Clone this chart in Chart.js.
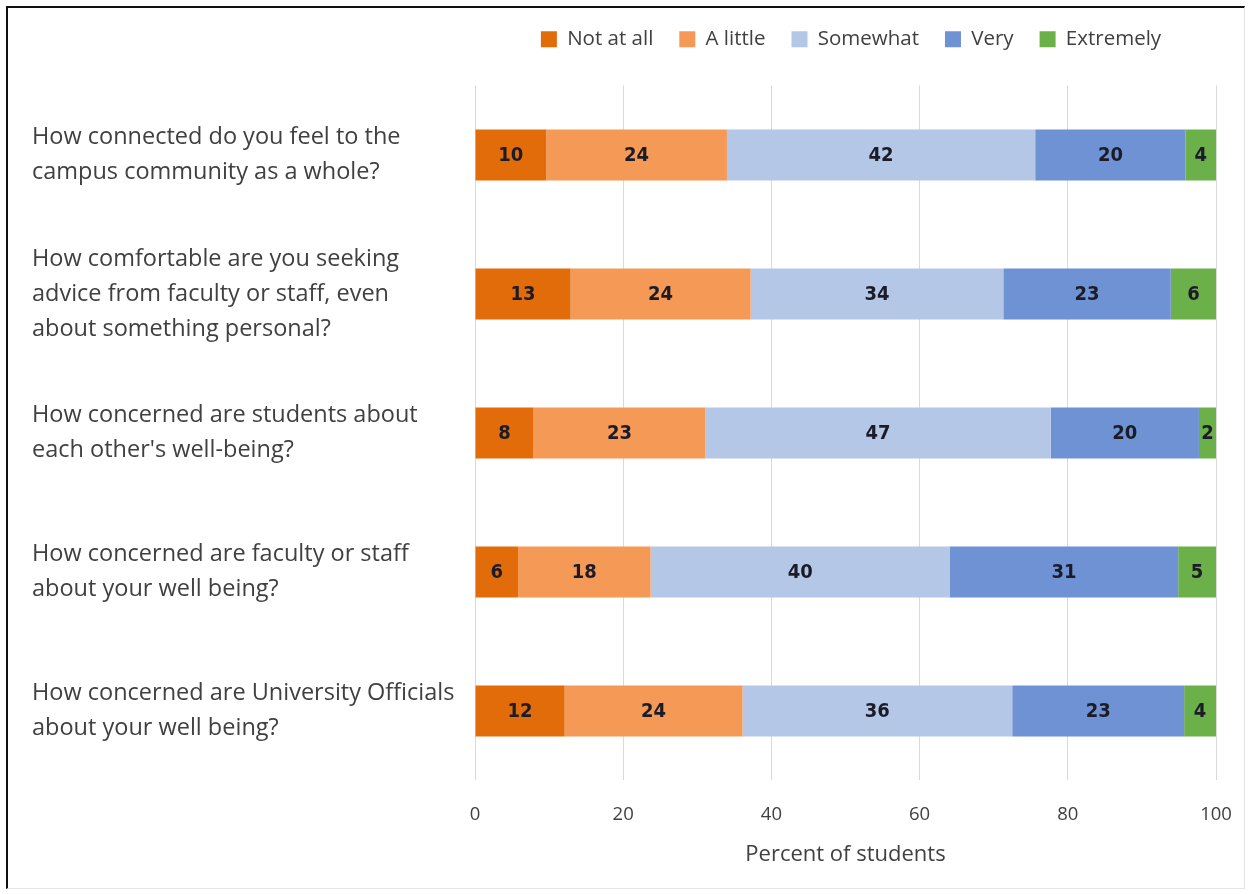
<!DOCTYPE html>
<html>
<head>
<meta charset="utf-8">
<script src="https://cdn.jsdelivr.net/npm/chart.js@4/dist/chart.umd.min.js"></script>
<style>
  html, body { margin: 0; padding: 0; background: #fff; }
  #wrap { position: relative; width: 1250px; height: 894px; }
  #frame { position: absolute; left: 6px; top: 6px; width: 1236px; height: 880px;
           border-top: 2px solid #111; border-left: 2px solid #111;
           border-right: 1px solid #e4e4e4; border-bottom: 1px solid #e4e4e4; pointer-events: none; }
  canvas { position: absolute; left: 0; top: 0; }
</style>
</head>
<body>
<div id="wrap">
  <canvas id="c" width="1250" height="894"></canvas>
  <div id="frame"></div>
</div>
<script>
const categories = [
  ["How connected do you feel to the", "campus community as a whole?"],
  ["How comfortable are you seeking", "advice from faculty or staff, even", "about something personal?"],
  ["How concerned are students about", "each other's well-being?"],
  ["How concerned are faculty or staff", "about your well being?"],
  ["How concerned are University Officials", "about your well being?"]
];
const seriesNames = ["Not at all", "A little", "Somewhat", "Very", "Extremely"];
const notAtAll  = [9.6, 12.9, 7.9, 5.8, 12.1];
const aLittle   = [24.4, 24.3, 23.2, 17.9, 24.0];
const somewhat  = [41.6, 34.1, 46.6, 40.4, 36.4];
const very      = [20.3, 22.6, 20.0, 30.8, 23.2];
const extremely = [4.1, 6.1, 2.3, 5.1, 4.3];
const xTicks = [0, 20, 40, 60, 80, 100];
const xTitle = "Percent of students";

const colors = ["#e36c0a", "#f59a56", "#b4c7e7", "#6f92d4", "#6cb04a"];
const seriesValues = [notAtAll, aLittle, somewhat, very, extremely];

const textColor = "#404040";
const uiFont = "'Segoe UI', 'Open Sans', 'Noto Sans', sans-serif";

const barLabels = {
  id: 'barLabels',
  afterDatasetsDraw(chart) {
    const ctx = chart.ctx;
    ctx.save();
    ctx.font = "bold 20px 'Liberation Sans Narrow', 'DejaVu Sans Condensed', Lato, sans-serif";
    ctx.fillStyle = "#1c1c28";
    ctx.textAlign = "center";
    ctx.textBaseline = "middle";
    chart.data.datasets.forEach((ds, di) => {
      const meta = chart.getDatasetMeta(di);
      meta.data.forEach((bar, i) => {
        const v = ds.data[i];
        const cx = (bar.x + bar.base) / 2;
        ctx.fillText(String(Math.round(v)), cx, bar.y + 1);
      });
    });
    ctx.restore();
  }
};

const legendPlace = {
  id: 'legendPlace',
  afterLayout(chart) {
    const lg = chart.legend;
    if (lg) {
      const h = lg.bottom - lg.top;
      lg.left = 487; lg.right = 1215;
      lg.top = 3; lg.bottom = 3 + h;
    }
  }
};

new Chart(document.getElementById('c'), {
  type: 'bar',
  data: {
    labels: categories,
    datasets: seriesNames.map((n, i) => ({
      label: n,
      data: seriesValues[i],
      backgroundColor: colors[i],
      borderWidth: 0,
      categoryPercentage: 1.0,
      barPercentage: 0.367
    }))
  },
  options: {
    indexAxis: 'y',
    responsive: false,
    animation: false,
    devicePixelRatio: 1,
    layout: { padding: { left: 32, right: 34, top: 29, bottom: 26 } },
    plugins: {
      tooltip: { enabled: false },
      legend: {
        display: true,
        position: 'top',
        align: 'center',
        labels: {
          boxWidth: 16, boxHeight: 16,
          padding: 26,
          color: textColor,
          font: { family: uiFont, size: 20.5 }
        }
      }
    },
    scales: {
      x: {
        stacked: true,
        min: 0, max: 100,
        afterBuildTicks(scale) { scale.ticks = xTicks.map(v => ({ value: v })); },
        afterFit(scale) { scale.paddingRight = 0; scale.paddingLeft = 0; },
        grid: { color: "#d9d9d9", lineWidth: 1, drawTicks: false },
        border: { display: false },
        ticks: { color: textColor, padding: 23.5, font: { family: uiFont, size: 18.5 } },
        title: { display: true, text: xTitle, color: textColor, padding: { top: -8, bottom: 0 },
                 font: { family: uiFont, size: 22 } }
      },
      y: {
        stacked: true,
        grid: { display: false },
        border: { display: false },
        afterFit(scale) { scale.width = 443; },
        ticks: {
          autoSkip: false,
          crossAlign: 'far',
          color: textColor,
          font: { family: uiFont, size: 23.5, lineHeight: 1.49 }
        }
      }
    }
  },
  plugins: [barLabels, legendPlace]
});
</script>
</body>
</html>
